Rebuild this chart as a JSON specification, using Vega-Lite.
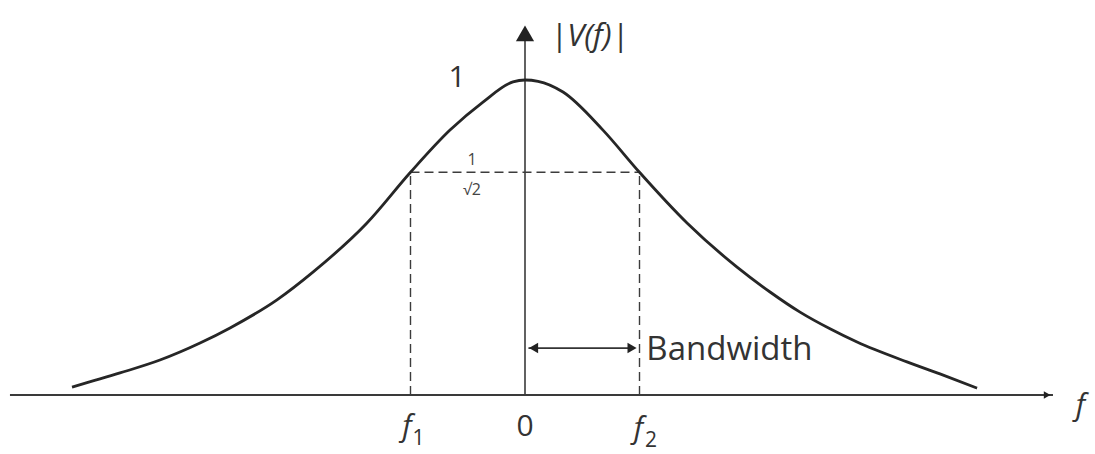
{
  "$schema": "https://vega.github.io/schema/vega-lite/v6.json",
  "width": 1095,
  "height": 454,
  "autosize": {"type": "fit", "contains": "padding"},
  "padding": 0,
  "background": "white",
  "config": {"view": {"stroke": null}},
  "datasets": {
    "curve": [
      {"f": -3.956, "v": 0.025},
      {"f": -3.537, "v": 0.070},
      {"f": -3.188, "v": 0.111},
      {"f": -2.838, "v": 0.165},
      {"f": -2.576, "v": 0.213},
      {"f": -2.166, "v": 0.302},
      {"f": -1.852, "v": 0.390},
      {"f": -1.380, "v": 0.546},
      {"f": -1.0, "v": 0.707},
      {"f": -0.655, "v": 0.841},
      {"f": -0.367, "v": 0.930},
      {"f": -0.105, "v": 0.994},
      {"f": 0.0, "v": 1.0},
      {"f": 0.114, "v": 0.996},
      {"f": 0.332, "v": 0.962},
      {"f": 0.681, "v": 0.841},
      {"f": 1.0, "v": 0.707},
      {"f": 1.415, "v": 0.546},
      {"f": 1.852, "v": 0.406},
      {"f": 2.140, "v": 0.327},
      {"f": 2.402, "v": 0.263},
      {"f": 2.664, "v": 0.210},
      {"f": 2.900, "v": 0.168},
      {"f": 3.336, "v": 0.105},
      {"f": 3.624, "v": 0.067},
      {"f": 3.948, "v": 0.022}
    ],
    "axes": [
      {"f": -4.498, "f2": 4.611, "v": 0, "v2": 0, "w": 2},
      {"f": 0, "f2": 0, "v": 0, "v2": 1.13, "w": 1.6}
    ],
    "heads": [
      {"f": 4.56, "v": 0, "shape": "triangle-right", "s": 60},
      {"f": 0, "v": 1.148, "shape": "triangle-up", "s": 330},
      {"f": 0.075, "v": 0.149, "shape": "triangle-left", "s": 110},
      {"f": 0.935, "v": 0.149, "shape": "triangle-right", "s": 110}
    ],
    "span": [
      {"f": 0.03, "f2": 0.95, "v": 0.149}
    ],
    "guides": [
      {"f": -1, "f2": 1, "v": 0.707, "v2": 0.707},
      {"f": -1, "f2": -1, "v": 0, "v2": 0.707},
      {"f": 1, "f2": 1, "v": 0, "v2": 0.707}
    ],
    "bigUpright": [
      {"f": -0.594, "v": 1.006, "t": "1"},
      {"f": 0, "v": -0.102, "t": "0"}
    ],
    "bigItalic": [
      {"f": -1.03, "v": -0.102, "t": "f"},
      {"f": 0.99, "v": -0.108, "t": "f"},
      {"f": 4.85, "v": -0.035, "t": "f"}
    ],
    "subs": [
      {"f": -0.93, "v": -0.14, "t": "1"},
      {"f": 1.1, "v": -0.145, "t": "2"}
    ],
    "small": [
      {"f": -0.463, "v": 0.746, "t": "1"},
      {"f": -0.463, "v": 0.651, "t": "√2"}
    ]
  },
  "encoding": {
    "x": {"field": "f", "type": "quantitative", "scale": {"domain": [-4.585, 4.978], "nice": false, "zero": false}, "axis": null},
    "y": {"field": "v", "type": "quantitative", "scale": {"domain": [-0.1873, 1.254], "nice": false, "zero": false}, "axis": null}
  },
  "layer": [
    {
      "data": {"name": "axes"},
      "mark": {"type": "rule", "color": "#3a3a3a"},
      "encoding": {
        "x2": {"field": "f2"},
        "y2": {"field": "v2"},
        "strokeWidth": {"field": "w", "type": "quantitative", "scale": null}
      }
    },
    {
      "data": {"name": "guides"},
      "mark": {"type": "rule", "color": "#3c3c3c", "strokeWidth": 1.4, "strokeDash": [9, 5]},
      "encoding": {
        "x2": {"field": "f2"},
        "y2": {"field": "v2"}
      }
    },
    {
      "data": {"name": "span"},
      "mark": {"type": "rule", "color": "#333333", "strokeWidth": 1.8},
      "encoding": {
        "x2": {"field": "f2"}
      }
    },
    {
      "data": {"name": "heads"},
      "mark": {"type": "point", "filled": true, "color": "#222222", "opacity": 1},
      "encoding": {
        "shape": {"field": "shape", "type": "nominal", "scale": null},
        "size": {"field": "s", "type": "quantitative", "scale": null}
      }
    },
    {
      "data": {"name": "curve"},
      "mark": {"type": "line", "color": "#262626", "strokeWidth": 2.8, "interpolate": "monotone"},
      "encoding": {}
    },
    {
      "data": {"name": "bigUpright"},
      "mark": {"type": "text", "font": "Open Sans", "fontSize": 30, "color": "#333333", "align": "center", "baseline": "middle"},
      "encoding": {"text": {"field": "t"}}
    },
    {
      "data": {"name": "bigItalic"},
      "mark": {"type": "text", "font": "Open Sans", "fontSize": 30, "fontStyle": "italic", "color": "#333333", "align": "center", "baseline": "middle"},
      "encoding": {"text": {"field": "t"}}
    },
    {
      "data": {"name": "subs"},
      "mark": {"type": "text", "font": "Open Sans", "fontSize": 21, "color": "#333333", "align": "center", "baseline": "middle"},
      "encoding": {"text": {"field": "t"}}
    },
    {
      "data": {"name": "small"},
      "mark": {"type": "text", "font": "Open Sans", "fontSize": 16, "color": "#444444", "align": "center", "baseline": "middle"},
      "encoding": {"text": {"field": "t"}}
    },
    {
      "data": {"values": [{"f": 0.22, "v": 1.137, "t": "|V(f)|"}]},
      "mark": {"type": "text", "font": "Open Sans", "fontSize": 31, "fontStyle": "italic", "color": "#333333", "align": "left", "baseline": "middle"},
      "encoding": {"text": {"field": "t"}}
    },
    {
      "data": {"values": [{"f": 1.06, "v": 0.143, "t": "Bandwidth"}]},
      "mark": {"type": "text", "font": "Open Sans", "fontSize": 33, "color": "#333333", "align": "left", "baseline": "middle"},
      "encoding": {"text": {"field": "t"}}
    }
  ]
}
